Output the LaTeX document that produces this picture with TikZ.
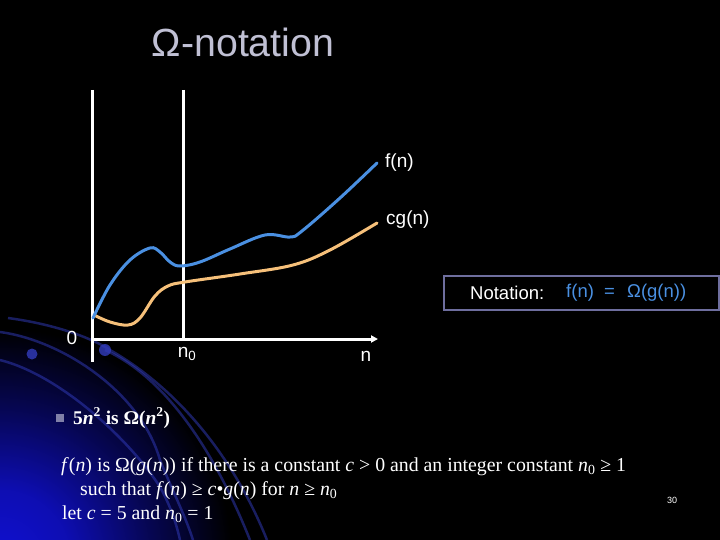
\documentclass[tikz,border=0pt]{standalone}
\usepackage{fontspec}
\setmainfont{Liberation Serif}
\newfontfamily\arialf{Liberation Sans}
\usetikzlibrary{arrows.meta}
\definecolor{fblue}{RGB}{74,144,226}
\definecolor{gorange}{RGB}{246,192,122}
\definecolor{boxline}{RGB}{110,110,158}
\definecolor{titlecol}{RGB}{192,192,212}
\definecolor{bulletcol}{RGB}{128,128,168}
\definecolor{glowblue}{RGB}{16,16,210}
\definecolor{arccol}{RGB}{50,60,190}
\pgfdeclareradialshading{glowshade}{\pgfpoint{0bp}{0bp}}{color(0bp)=(glowblue); color(6bp)=(glowblue!85!black); color(13bp)=(glowblue!40!black); color(20bp)=(black); color(50bp)=(black)}
\begin{document}
\begin{tikzpicture}[x=1pt,y=-1pt,
  axisline/.style={white,line width=3pt},
  curveblue/.style={fblue,line width=3pt,line cap=round},
  curveorange/.style={gorange,line width=3pt,line cap=round},
  axlabel/.style={text=white,font=\arialf\fontsize{19}{22}\selectfont,inner sep=0pt},
  notelabel/.style={font=\arialf\fontsize{18.5}{21}\selectfont,inner sep=0pt,anchor=west},
  bodytext/.style={text=white,font=\fontsize{19.8}{23}\selectfont,inner sep=0pt,anchor=base west},
  decoarc/.style={arccol,line width=2.5pt,opacity=0.5}]
\useasboundingbox (0,0) rectangle (720,540);
\fill[black] (0,0) rectangle (720,540);
\begin{scope}
\clip (0,0) rectangle (720,540);
\shade[shading=glowshade] (0,560) circle (290);
\draw[decoarc] (8,318) .. controls (60,325) and (95,340) .. (110,350) .. controls (180,390) and (235,460) .. (267,540);
\draw[decoarc] (0,332) .. controls (60,340) and (140,390) .. (160,460) .. controls (172,490) and (185,515) .. (193,540);
\draw[decoarc] (0,360) .. controls (60,375) and (130,440) .. (160,487) .. controls (170,505) and (176,522) .. (180,540);
\draw[decoarc] (105,350) .. controls (160,375) and (210,440) .. (250,540);
\fill[arccol,opacity=0.8] (32,354) circle (5.5);
\fill[arccol,opacity=0.8] (105,350) circle (6);
\end{scope}
% title
\node[text=titlecol,font=\arialf\fontsize{39.3}{45}\selectfont,inner sep=0pt] (title) at (243,42) {Ω-notation};
% axes
\coordinate (origin) at (92,339);
\coordinate (ytop) at (92,90);
\coordinate (ybot) at (92,362);
\coordinate (xend) at (378,339);
\coordinate (nztop) at (183,90);
\coordinate (nzbot) at (183,339);
\draw[axisline] (ytop) -- (ybot);
\draw[axisline,-{Triangle[length=7pt,width=7pt]}] (origin) -- (xend);
\draw[axisline] (nztop) -- (nzbot);
% curves
\draw[curveorange] plot[smooth,tension=0.6] coordinates {(94,315) (110,322) (128,325) (140,318) (155,296) (168,286) (185,282) (240,274) (293,265) (330,250) (377,223)};
\draw[curveblue] plot[smooth,tension=0.6] coordinates {(93,318) (110,285) (130,260) (150,248) (160,252) (170,262) (180,266) (200,262) (230,249) (265,235) (290,237) (302,231) (340,198) (377,163)};
% labels
\node[axlabel,anchor=west] (fn) at (385,163) {f(n)};
\node[axlabel,anchor=west] (cgn) at (386,220) {cg(n)};
\node[axlabel] (zero) at (72,338) {0};
\node[axlabel] (nzero) at (187,354) {n\textsubscript{0}};
\node[axlabel] (nlab) at (366,356) {n};
% notation box
\draw[boxline,line width=2.5pt] (444,276) rectangle (719,310);
\node[notelabel,text=white] (notation) at (470,293) {Notation:};
\node[notelabel,text=fblue] (nf) at (566,293) {f(n)};
\node[notelabel,text=fblue] (neq) at (604,293) {=};
\node[notelabel,text=fblue] (nom) at (627,293) {Ω(g(n))};
% bullet
\fill[bulletcol] (56,414) rectangle (64,422);
\node[bodytext,font=\bfseries\fontsize{19.4}{22}\selectfont] (bul) at (73,424) {5\textit{n}\textsuperscript{2} is Ω(\textit{n}\textsuperscript{2})};
\node[bodytext] (l1) at (61,471) {\textit{f}(\textit{n}) is Ω(\textit{g}(\textit{n})) if there is a constant \textit{c} > 0 and an integer constant \textit{n}\textsubscript{0} ≥ 1};
\node[bodytext] (l2) at (80,495) {such that \textit{f}(\textit{n}) ≥ \textit{c}•\textit{g}(\textit{n}) for \textit{n} ≥ \textit{n}\textsubscript{0}};
\node[bodytext] (l3) at (62,519) {let \textit{c} = 5 and \textit{n}\textsubscript{0} = 1};
\node[text=white,font=\arialf\fontsize{9}{10}\selectfont,inner sep=0pt] (pnum) at (672,500) {30};
\end{tikzpicture}
\end{document}
